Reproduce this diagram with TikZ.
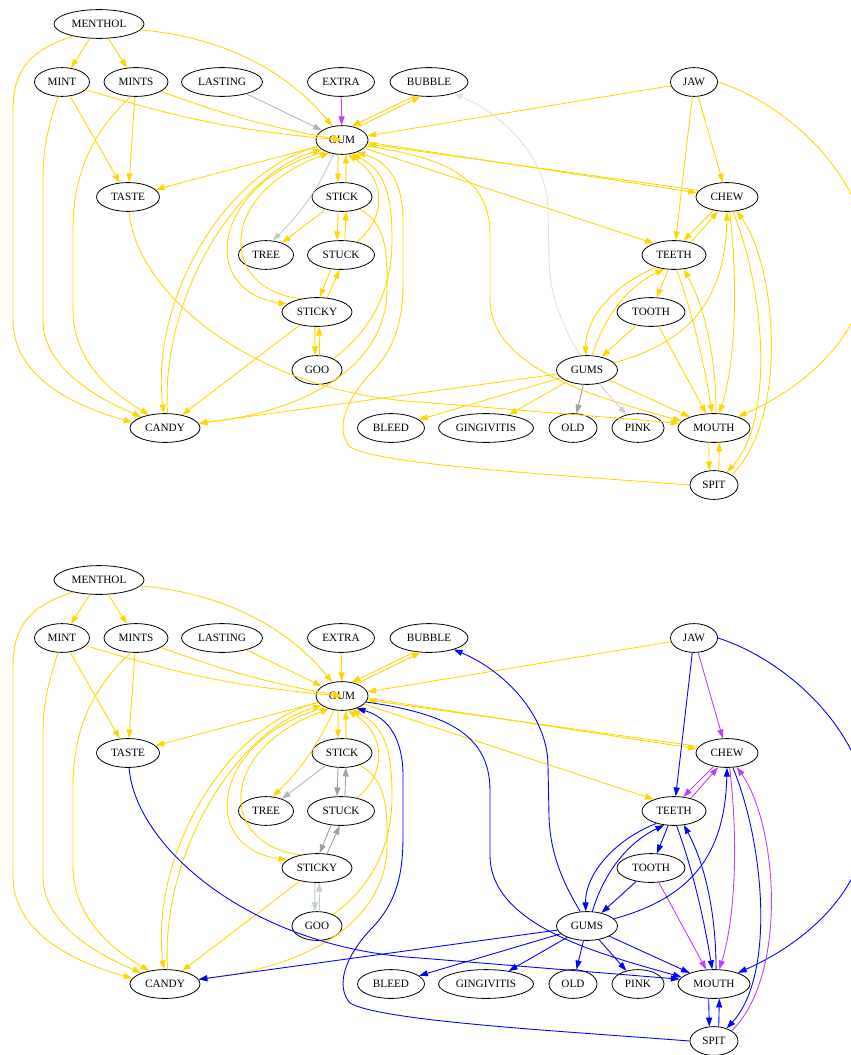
\documentclass[tikz,border=0pt]{standalone}
\usepackage{fontspec}
\setmainfont{Liberation Serif}
\usetikzlibrary{shapes.geometric,arrows.meta}
\definecolor{cGold}{RGB}{255,215,0}
\definecolor{cBlue}{RGB}{0,0,255}
\definecolor{cOrchid}{RGB}{191,62,255}
\definecolor{cAzure}{RGB}{193,205,205}
\definecolor{cMid}{RGB}{180,180,180}
\definecolor{cDark}{RGB}{160,160,160}
\definecolor{cLight}{RGB}{208,208,208}
\definecolor{cPale}{RGB}{224,224,224}
\tikzset{
myWord/.style={
	ellipse, draw, line width=1pt,
	inner sep=0pt, minimum height=36pt,
	font=\fontsize{14}{17}\selectfont, text=black
}
, wide/.style={minimum width=#1}
% links
, myLink/.style={-{Triangle[length=11pt,width=7.5pt]},line width=1.1pt,color=cGold}
, myTop/.style={
	myLast/.style={myLink,color=cMid},
	myExtra/.style={myLink,color=cOrchid},
	myTree/.style={myLink,color=cAzure},
	myStickTree/.style={myLink},
	myStuck/.style={myLink},
	myGoo/.style={myLink},
	myBlue/.style={myLink},
	myPurple/.style={myLink},
	myBubble/.style={myLink,color=cPale},
	myOld/.style={myLink,color=cDark},
	myPink/.style={myLink,color=cLight}
}
, myLow/.style={
	myLast/.style={myLink},
	myExtra/.style={myLink},
	myTree/.style={myLink},
	myStickTree/.style={myLink,color=cMid},
	myStuck/.style={myLink,color=cDark},
	myGoo/.style={myLink,color=cAzure},
	myBlue/.style={myLink,color=cBlue},
	myPurple/.style={myLink,color=cOrchid},
	myBubble/.style={myLink,color=cBlue},
	myOld/.style={myLink,color=cBlue},
	myPink/.style={myLink,color=cBlue}
}
}

\begin{document}
\begin{tikzpicture}[x=1.25pt,y=-1.25pt]
	\useasboundingbox (0,0) rectangle (850,1055);
	\foreach \g/\dy in {1/0pt,2/-695pt} {
	\begin{scope}[yshift=\dy, name prefix=g\g-]
	\ifnum\g=1 \tikzset{myTop}\else\tikzset{myLow}\fi
	% nodes
	\node[myWord,wide=112.5pt] (menthol) at ( 99,24) {MENTHOL};
	\node[myWord,wide=68.75pt] (mint) at ( 62,82) {MINT};
	\node[myWord,wide=80pt] (mints) at (136,82) {MINTS};
	\node[myWord,wide=101.25pt] (lasting) at (222,82) {LASTING};
	\node[myWord,wide=83.75pt] (extra) at (341,82) {EXTRA};
	\node[myWord,wide=97.5pt] (bubble) at (429,82) {BUBBLE};
	\node[myWord,wide=58.75pt] (jaw) at (694,82) {JAW};
	\node[myWord,wide=65pt] (gum) at (342,140) {GUM};
	\node[myWord,wide=78.75pt] (taste) at (128,197) {TASTE};
	\node[myWord,wide=75pt] (stick) at (342,197) {STICK};
	\node[myWord,wide=77.5pt] (chew) at (727,197) {CHEW};
	\node[myWord,wide=68.75pt] (tree) at (266,255) {TREE};
	\node[myWord,wide=83.75pt] (stuck) at (341,255) {STUCK};
	\node[myWord,wide=80pt] (teeth) at (674,255) {TEETH};
	\node[myWord,wide=87.5pt] (sticky) at (317,312) {STICKY};
	\node[myWord,wide=85pt] (tooth) at (651,312) {TOOTH};
	\node[myWord,wide=62.5pt] (goo) at (317,370) {GOO};
	\node[myWord,wide=76.25pt] (gums) at (587,370) {GUMS};
	\node[myWord,wide=87.5pt] (candy) at (165,428) {CANDY};
	\node[myWord,wide=83.75pt] (bleed) at (391,428) {BLEED};
	\node[myWord,wide=118.75pt] (gingivitis) at (486,428) {GINGIVITIS};
	\node[myWord,wide=60pt] (old) at (573,428) {OLD};
	\node[myWord,wide=65pt] (pink) at (638,428) {PINK};
	\node[myWord,wide=90pt] (mouth) at (714,428) {MOUTH};
	\node[myWord,wide=60pt] (spit) at (714,485) {SPIT};
	% menthol, mint, mints
	\draw[myLink] (menthol) -- (mint);
	\draw[myLink] (menthol) -- (mints);
	\draw[myLink] (menthol.-8) .. controls (230,38) and (290,75) .. (gum.125);
	\draw[myLink] (menthol.-155) .. controls (30,50) and (13,70) .. (13,110) -- (13,320) .. controls (13,370) and (60,402) .. (candy.170);
	\draw[myLink] (mint) to[bend right=6] (gum);
	\draw[myLink] (mint) -- (taste);
	\draw[myLink] (mint.-105) .. controls (47,130) and (43,150) .. (43,180) -- (43,320) .. controls (43,365) and (90,395) .. (candy.155);
	\draw[myLink] (mints) to[bend right=5] (gum);
	\draw[myLink] (mints) -- (taste);
	\draw[myLink] (mints.-110) .. controls (95,130) and (73,170) .. (73,230) -- (73,310) .. controls (73,360) and (110,392) .. (candy.140);
	% into gum from the top
	\draw[myLast] (lasting) -- (gum);
	\draw[myExtra] (extra) -- (gum);
	\draw[myLink] (gum.40) -- (bubble.-120);
	\draw[myLink] (bubble.-135) -- (gum.55);
	\draw[myLink] (jaw) -- (gum);
	% gum and its neighbours
	\draw[myLink] (gum) -- (taste);
	\draw[myLink] (gum.-105) -- (stick.105);
	\draw[myLink] (stick.75) -- (gum.-75);
	\draw[myTree] (gum.-120) to[bend left=10] (tree.65);
	\draw[myStickTree] (stick) -- (tree);
	\draw[myStuck] (stick.-105) -- (stuck.105);
	\draw[myStuck] (stuck.75) -- (stick.-75);
	\draw[myLink] (stuck.40) .. controls (385,220) and (388,180) .. (gum.-68);
	\draw[myStuck] (stuck.-125) -- (sticky.80);
	\draw[myStuck] (sticky.55) -- (stuck.-95);
	\draw[myLink] (gum.-145) .. controls (215,180) and (195,290) .. (sticky.165);
	\draw[myLink] (sticky.140) .. controls (220,290) and (215,195) .. (gum.-135);
	\draw[myLink] (gum.-165) .. controls (225,170) and (150,300) .. (candy.95);
	\draw[myLink] (candy.80) .. controls (160,300) and (235,175) .. (gum.-155);
	\draw[myLink] (sticky) -- (candy);
	\draw[myLink] (stick.-35) .. controls (385,222) and (388,250) .. (387,290) .. controls (386,370) and (300,412) .. (candy.8);
	\draw[myGoo] (sticky.-98) -- (goo.98);
	\draw[myGoo] (goo.80) -- (sticky.-82);
	\draw[myLink] (goo.35) .. controls (372,330) and (392,290) .. (392,240) .. controls (392,195) and (385,170) .. (gum.-55);
	\draw[myBlue] (spit.west) .. controls (560,475) and (380,465) .. (350,447) .. controls (335,430) and (345,400) .. (372,372) .. controls (398,345) and (403,315) .. (403,280) -- (403,220) .. controls (403,185) and (390,162) .. (gum.-40);
	% gum to the right
	\draw[myLink] (gum.-5) -- (chew.172);
	\draw[myLink] (chew.167) -- (gum.-9);
	\draw[myLink] (gum.-20) -- (teeth.150);
	\draw[myBlue] (gum.-14) .. controls (450,158) and (490,180) .. (490,235) -- (490,300) .. controls (491,370) and (600,398) .. (mouth.168);
	\draw[myBlue] (taste) .. controls (135,290) and (250,392) .. (420,402) -- (mouth.172);
	% jaw, chew, teeth
	\draw[myPurple] (jaw) -- (chew);
	\draw[myBlue] (jaw) -- (teeth);
	\draw[myBlue] (jaw.east) .. controls (790,105) and (868,180) .. (868,260) .. controls (868,330) and (810,385) .. (mouth.25);
	\draw[myPurple] (chew.-135) -- (teeth.57);
	\draw[myPurple] (teeth.37) -- (chew.-122);
	\draw[myBlue] (teeth) -- (tooth);
	\draw[myBlue] (teeth.-145) .. controls (612,285) and (585,320) .. (gums.95);
	\draw[myBlue] (gums.70) .. controls (603,320) and (625,288) .. (teeth.-125);
	\draw[myBlue] (tooth) -- (gums);
	\draw[myBlue] (teeth.-80) .. controls (695,320) and (705,370) .. (mouth.97);
	\draw[myBlue] (mouth.82) .. controls (716,360) and (706,310) .. (teeth.-55);
	\draw[myPurple] (tooth) -- (mouth);
	\draw[myBlue] (gums.15) .. controls (690,342) and (725,300) .. (chew.-90);
	\draw[myPurple] (chew.-80) .. controls (738,280) and (736,360) .. (mouth.70);
	\draw[myBlue] (chew.-68) .. controls (765,290) and (775,420) .. (spit.45);
	\draw[myPurple] (spit.30) .. controls (788,420) and (778,270) .. (chew.-55);
	\draw[myBlue] (mouth.-110) -- (spit.108);
	\draw[myBlue] (spit.72) -- (mouth.-70);
	% gums
	\draw[myBlue] (gums) -- (candy);
	\draw[myBlue] (gums) -- (bleed);
	\draw[myBlue] (gums) -- (gingivitis);
	\draw[myOld] (gums) -- (old);
	\draw[myPink] (gums) -- (pink);
	\draw[myBlue] (gums) -- (mouth);
	\draw[myBubble] (gums.115) .. controls (565,330) and (550,300) .. (549,260) -- (548,210) .. controls (548,160) and (505,115) .. (bubble.-25);
	\end{scope}
	}
\end{tikzpicture}
\end{document}
